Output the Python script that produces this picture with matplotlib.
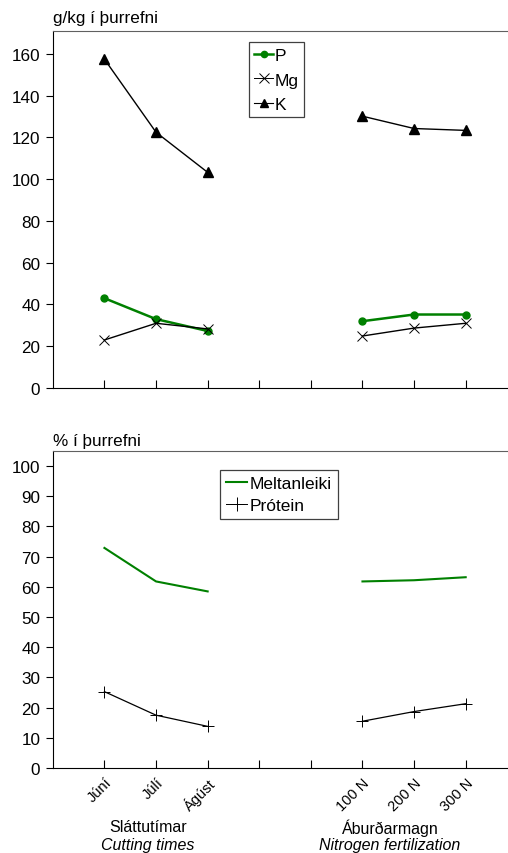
import matplotlib
matplotlib.use("Agg")
import matplotlib.pyplot as plt

# Data
x_cut = [1, 2, 3]
x_n = [6, 7, 8]
tick_pos = [1, 2, 3, 4, 5, 6, 7, 8]
tick_labels = ["Júní", "Júlí", "Ágúst", "", "", "100 N", "200 N", "300 N"]

P_cut = [43, 33, 27.3]
P_n = [32, 35.2, 35.2]
Mg_cut = [23, 31, 28.3]
Mg_n = [24.9, 28.7, 31]
K_cut = [157.5, 122.5, 103.3]
K_n = [130.2, 124.3, 123.4]

melt_cut = [72.9, 61.8, 58.5]
melt_n = [61.8, 62.2, 63.2]
prot_cut = [25.3, 17.5, 13.8]
prot_n = [15.5, 18.7, 21.3]

plt.rcParams['font.family'] = ['Liberation Sans', 'DejaVu Sans']
GREEN = '#008000'
FS = 12.3

fig = plt.figure(figsize=(5.08, 8.54), dpi=100)

def style(ax, ymax, yticks):
    ax.set_xlim(0, 8.82)
    ax.set_ylim(0, ymax)
    ax.set_yticks(yticks)
    ax.set_xticks(tick_pos)
    ax.spines['right'].set_visible(False)
    ax.spines['top'].set_color('#606060')
    ax.spines['left'].set_color('black')
    ax.spines['bottom'].set_color('black')
    ax.tick_params(axis='y', direction='out', length=5, labelsize=FS, width=0.8, pad=4)
    ax.tick_params(axis='x', direction='in', length=6, width=0.8)

# Top chart
ax1 = fig.add_axes([0.104, 0.5445, 0.896, 0.418])
for xs, ys in [(x_cut, P_cut), (x_n, P_n)]:
    ax1.plot(xs, ys, color=GREEN, lw=1.8, marker='o', ms=5)
for xs, ys in [(x_cut, Mg_cut), (x_n, Mg_n)]:
    ax1.plot(xs, ys, color='black', lw=1.0, marker='x', ms=7.5, mew=0.7)
for xs, ys in [(x_cut, K_cut), (x_n, K_n)]:
    ax1.plot(xs, ys, color='black', lw=1.0, marker='^', ms=6.5)
style(ax1, 171, [0, 20, 40, 60, 80, 100, 120, 140, 160])
ax1.set_xticklabels([])
h1 = [
    plt.Line2D([], [], color=GREEN, lw=1.8, marker='o', ms=4.5),
    plt.Line2D([], [], color='black', lw=0.7, marker='x', ms=7.5, mew=0.7),
    plt.Line2D([], [], color='black', lw=0.8, marker='^', ms=6),
]
leg1 = ax1.legend(h1, ['P', 'Mg', 'K'], loc='upper left', bbox_to_anchor=(0.431, 0.968),
                  fontsize=12.5, handlelength=1.1, handletextpad=0.1, borderpad=0.3,
                  labelspacing=0.55, fancybox=False, framealpha=1, borderaxespad=0)
leg1.get_frame().set_edgecolor('#404040')
leg1.get_frame().set_linewidth(0.9)
fig.text(0.104, 0.97, "g/kg í þurrefni", fontsize=FS, ha='left', va='bottom')

# Bottom chart
ax2 = fig.add_axes([0.104, 0.0995, 0.896, 0.3712])
for xs, ys in [(x_cut, melt_cut), (x_n, melt_n)]:
    ax2.plot(xs, ys, color=GREEN, lw=1.5)
for xs, ys in [(x_cut, prot_cut), (x_n, prot_n)]:
    ax2.plot(xs, ys, color='black', lw=0.9, marker='+', ms=9, mew=0.7)
style(ax2, 105, [0, 10, 20, 30, 40, 50, 60, 70, 80, 90, 100])
ax2.set_xticklabels(tick_labels, rotation=45, ha='right', rotation_mode='anchor', fontsize=10.5)
ax2.tick_params(axis='x', pad=5)
h2 = [
    plt.Line2D([], [], color=GREEN, lw=1.5),
    plt.Line2D([], [], color='black', lw=0.7, marker='+', ms=10, mew=0.7),
]
leg2 = ax2.legend(h2, ['Meltanleiki', 'Prótein'], loc='upper left', bbox_to_anchor=(0.368, 0.94),
                  fontsize=12.5, handlelength=1.2, handletextpad=0.15, borderpad=0.35,
                  labelspacing=0.4, fancybox=False, framealpha=1, borderaxespad=0)
leg2.get_frame().set_edgecolor('#404040')
leg2.get_frame().set_linewidth(0.9)
fig.text(0.104, 0.474, "% í þurrefni", fontsize=FS, ha='left', va='bottom')

fig.text(148 / 508, 1 - 828 / 854, "Sláttutímar", fontsize=11.5, ha='center', va='center')
fig.text(148 / 508, 1 - 846 / 854, "Cutting times", fontsize=11.5, style='italic', ha='center', va='center')
fig.text(390 / 508, 1 - 828 / 854, "Áburðarmagn", fontsize=11.5, ha='center', va='center')
fig.text(390 / 508, 1 - 846 / 854, "Nitrogen fertilization", fontsize=11.5, style='italic', ha='center', va='center')

fig.savefig("out.png", dpi=100)
